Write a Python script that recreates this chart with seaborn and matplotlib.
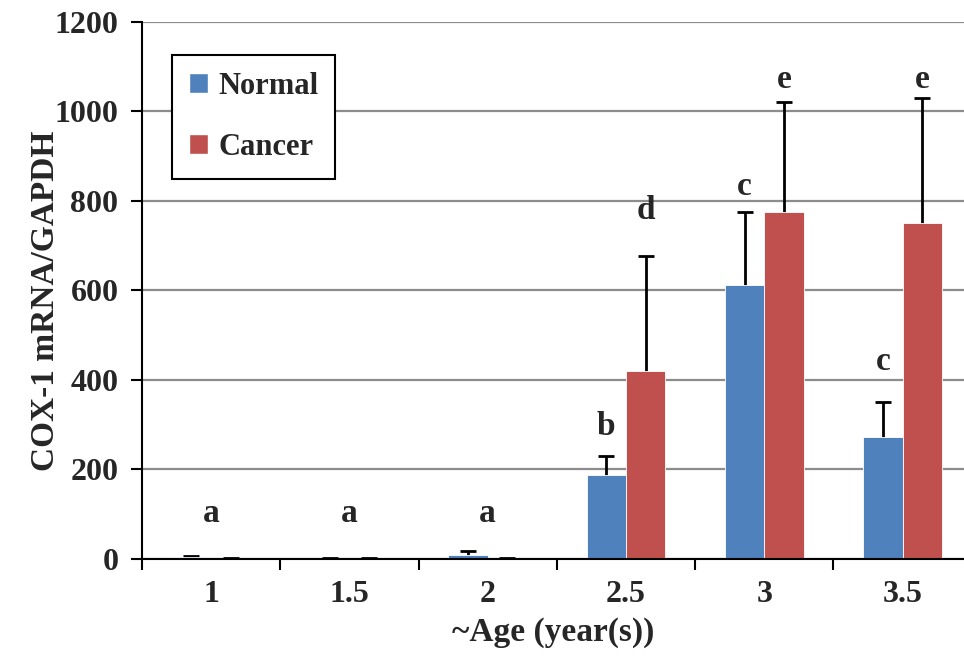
import numpy as np
import pandas as pd
import matplotlib
matplotlib.use('Agg')
import matplotlib.pyplot as plt
import seaborn as sns
from matplotlib.patches import Patch
from matplotlib.ticker import FixedLocator

# values
ages = ['1', '1.5', '2', '2.5', '3', '3.5']
normal = [4, 1, 10, 188, 612, 273]
normal_err = [3, 1, 7, 42, 164, 77]
cancer = [1, 1, 1, 420, 776, 751]
cancer_err = [1, 1, 1, 257, 246, 279]

# significance letters: (age index, group or None for centered, letter)
sig_age = [0, 1, 2, 3, 3, 4, 4, 5, 5]
sig_group = [None, None, None, 'Normal', 'Cancer', 'Normal', 'Cancer', 'Normal', 'Cancer']
sig_letter = ['a', 'a', 'a', 'b', 'd', 'c', 'e', 'c', 'e']
sig_y = [83, 83, 83, 277, 760, 813, 1052, 422, 1052]

groups = ['Normal', 'Cancer']
colors = {'Normal': '#4F81BD', 'Cancer': '#C0504D'}

df = pd.DataFrame({
    'age': ages * 2,
    'group': ['Normal'] * len(ages) + ['Cancer'] * len(ages),
    'value': normal + cancer,
})

sns.set_style('white')
plt.rcParams['font.family'] = ['Liberation Serif', 'DejaVu Serif']
plt.rcParams['font.weight'] = 'bold'

fig = plt.figure(figsize=(9.64, 6.56), dpi=100)
ax = fig.add_axes([0.1473, 0.1479, 0.8527, 0.8186])

sns.barplot(data=df, x='age', y='value', hue='group', order=ages,
            hue_order=groups, palette=colors, saturation=1, width=0.57,
            errorbar=None, edgecolor='white', linewidth=0.6, ax=ax,
            legend=False, zorder=2)

# error bars drawn behind the bars so only the upper half shows
errs = {'Normal': normal_err, 'Cancer': cancer_err}
centers = {}
for grp, cont in zip(groups, ax.containers):
    xs = [b.get_x() + b.get_width() / 2 for b in cont]
    hs = [b.get_height() for b in cont]
    centers[grp] = xs
    ax.errorbar(xs, hs, yerr=errs[grp], fmt='none', ecolor='black',
                elinewidth=2, capsize=6, capthick=2, zorder=1.8)

for i, g, letter, y in zip(sig_age, sig_group, sig_letter, sig_y):
    x = i if g is None else centers[g][i]
    ax.text(x, y, letter, ha='center', va='baseline', fontsize=24,
            fontweight='bold')

ax.set_ylim(0, 1200)
ax.set_xlim(-0.5, 5.444)
ax.set_yticks(range(0, 1201, 200))
ax.yaxis.grid(True, color='#8c8c8c', linewidth=1.6, zorder=0.5)
ax.set_axisbelow(True)

ax.spines['top'].set_visible(False)
ax.spines['right'].set_visible(False)
for s in ('left', 'bottom'):
    ax.spines[s].set_color('black')
    ax.spines[s].set_linewidth(1.5)
    ax.spines[s].set_zorder(3)

ax.tick_params(axis='y', which='major', direction='out', length=8, width=1.5,
               color='black', pad=9, labelsize=23, left=True)
ax.tick_params(axis='x', which='major', length=0, pad=15, labelsize=23)
ax.xaxis.set_minor_locator(FixedLocator(np.arange(-0.5, 5.6, 1.0)))
ax.tick_params(axis='x', which='minor', direction='out', length=8, width=1.5,
               color='black', bottom=True)

ax.set_xlabel('~Age (year(s))', fontsize=24, fontweight='bold', labelpad=6)
ax.set_ylabel('COX-1 mRNA/GAPDH', fontsize=24, fontweight='bold')
ax.yaxis.set_label_coords(-0.099, 0.48)

handles = [Patch(facecolor=colors[g], edgecolor='white', label=g) for g in groups]
leg = ax.legend(handles=handles, loc='upper left', bbox_to_anchor=(0.0365, 0.9385),
                borderaxespad=0, fancybox=False, framealpha=1, edgecolor='black',
                fontsize=22, handlelength=0.62, handleheight=0.62,
                handletextpad=0.35, labelspacing=1.05, borderpad=0.55)
leg.get_frame().set_linewidth(1.5)
for t in leg.get_texts():
    t.set_fontweight('bold')

fig.savefig('out.png', dpi=100)
